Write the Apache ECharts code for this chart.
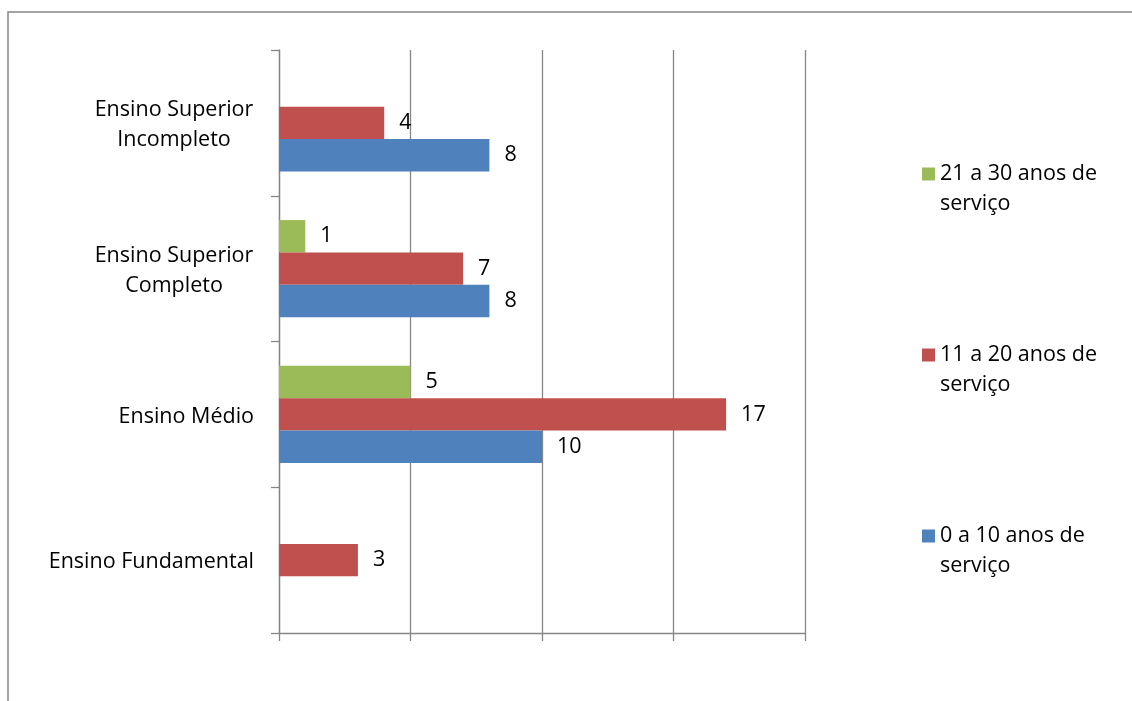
<!DOCTYPE html>
<html>
<head>
<meta charset="utf-8">
<script src="https://cdn.jsdelivr.net/npm/echarts@6/dist/echarts.min.js"></script>
<style>
html,body{margin:0;padding:0;background:#fff;}
#chart{width:1132px;height:701px;}
</style>
</head>
<body>
<div id="chart"></div>
<script>
// Data (categories listed bottom to top, as drawn)
const categories = ['Ensino Fundamental', 'Ensino Médio', 'Ensino Superior Completo', 'Ensino Superior Incompleto'];
const seriesNames = ['0 a 10 anos de serviço', '11 a 20 anos de serviço', '21 a 30 anos de serviço'];
const values0a10 = [null, 10, 8, 8];
const values11a20 = [3, 17, 7, 4];
const values21a30 = [null, 5, 1, null];
const xTicks = [0, 5, 10, 15, 20];

const colors = ['#4F81BD', '#C0504D', '#9BBB59'];
const FONT = 'Open Sans';
const FS = 21.5;
const LH = 30;
const gridColor = '#868686';

const chart = echarts.init(document.getElementById('chart'), null, {renderer: 'canvas'});

const mkSeries = (name, data, color) => ({
  name: name,
  type: 'bar',
  data: data,
  barGap: '0%',
  barCategoryGap: '33.4%',
  itemStyle: {color: color},
  label: {
    show: true,
    position: 'right',
    distance: 15,
    color: '#000',
    fontFamily: FONT,
    fontSize: FS,
    padding: [3, 0, 0, 0]
  },
  emphasis: {disabled: true},
  animation: false
});

const option = {
  animation: false,
  graphic: [{
    type: 'rect',
    silent: true,
    shape: {x: 8, y: 12, width: 1300, height: 900},
    style: {fill: 'none', stroke: gridColor, lineWidth: 1.5}
  }],
  grid: {left: 279, top: 50, right: 327, bottom: 68, containLabel: false},
  legend: {
    orient: 'vertical',
    left: 922,
    top: 129,
    padding: 0,
    itemGap: 91,
    itemWidth: 13,
    itemHeight: 13,
    icon: 'rect',
    data: [seriesNames[2], seriesNames[1], seriesNames[0]],
    formatter: function (n) { return '\n' + n.replace(' de serviço', ' de\nserviço'); },
    textStyle: {
      fontFamily: FONT,
      fontSize: FS,
      color: '#000',
      lineHeight: LH
    },
    selectedMode: false
  },
  xAxis: {
    type: 'value',
    min: xTicks[0],
    max: xTicks[xTicks.length - 1],
    interval: xTicks[1] - xTicks[0],
    axisLabel: {show: false},
    axisLine: {show: true, lineStyle: {color: gridColor, width: 1.3}},
    axisTick: {show: true, length: 8, inside: false, lineStyle: {color: gridColor, width: 1.3}},
    splitLine: {show: true, lineStyle: {color: gridColor, width: 1.3}}
  },
  yAxis: {
    type: 'category',
    data: categories,
    axisLine: {show: true, lineStyle: {color: gridColor, width: 1.3}},
    axisTick: {show: true, length: 8, inside: false, alignWithLabel: false, lineStyle: {color: gridColor, width: 1.3}},
    axisLabel: {
      margin: 25,
      color: '#000',
      fontFamily: FONT,
      fontSize: FS,
      lineHeight: LH,
      align: 'right',
      padding: [4, 0, 0, 0],
      formatter: function (v) {
        if (v.indexOf('Ensino Superior ') === 0) {
          return '{w|Ensino Superior}\n{w|' + v.slice('Ensino Superior '.length) + '}';
        }
        return v;
      },
      rich: {
        w: {width: 160, align: 'center', fontFamily: FONT, fontSize: FS, lineHeight: LH, color: '#000'}
      }
    },
    splitLine: {show: false}
  },
  series: [
    mkSeries(seriesNames[2], values21a30, colors[2]),
    mkSeries(seriesNames[1], values11a20, colors[1]),
    mkSeries(seriesNames[0], values0a10, colors[0])
  ]
};
chart.setOption(option);
</script>
</body>
</html>
